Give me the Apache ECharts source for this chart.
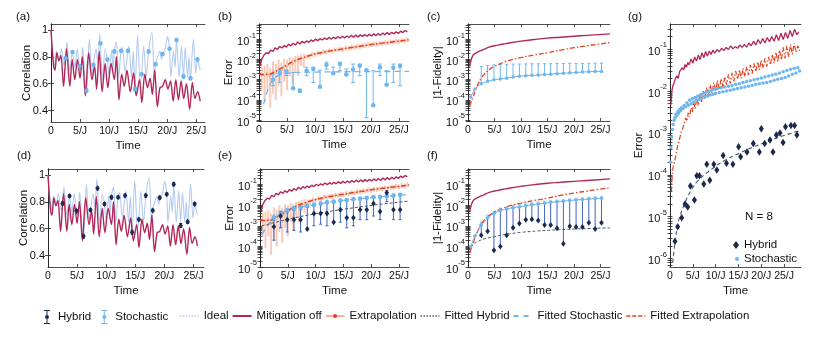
<!DOCTYPE html>
<html lang="en">
  <head>
    <meta charset="UTF-8" />
    <title>Error mitigation panels</title>
    <style>
      html, body { margin: 0; padding: 0; background: #fff; }
      #chart { width: 830px; height: 339px; }
    </style>
    <script src="https://cdn.jsdelivr.net/npm/echarts@6.0.0/dist/echarts.min.js"></script>
  </head>
  <body>
    <div id="chart"></div>
    <script>
      // sample times of the stochastic / hybrid runs (units of 1/J)
      const T = [2.5, 3.7, 4.9, 6.1, 7.3, 8.5, 9.7, 10.9, 12.05, 13.25, 14.45, 15.6, 16.8, 18.0, 19.2, 20.4, 21.6, 22.8, 24.0, 25.2]
      const TC = [0.5, 1.3, 2.5, 3.7, 4.9, 6.1, 7.3, 8.5, 9.7, 10.9, 12.05, 13.25, 14.45, 15.6, 16.8, 18.0, 19.2, 20.4, 21.6, 22.8, 24.0, 25.2]

      // (a)/(d) correlation
      const idealCorr = [[0,1.0],[0.3,0.82],[0.6,0.73],[0.95,0.84],[1.35,0.77],[1.8,0.86],[2.2,0.74],[2.5,0.79],[2.75,0.91],[3.2,0.70],[3.7,0.835],[4.1,0.72],[4.5,0.86],[4.9,0.73],[5.1,0.70],[5.45,0.87],[5.85,0.60],[6.1,0.55],[6.6,0.93],[7.05,0.66],[7.3,0.74],[7.75,0.86],[8.05,0.76],[8.4,0.97],[8.5,0.90],[8.9,0.63],[9.3,0.86],[9.7,0.78],[9.95,0.67],[10.45,0.85],[10.65,0.70],[10.9,0.84],[11.25,0.91],[11.65,0.65],[12.05,0.845],[12.3,0.87],[12.75,0.69],[13.25,0.845],[13.4,0.88],[13.85,0.65],[14.15,0.84],[14.45,0.56],[14.9,0.96],[15.35,0.60],[15.6,0.67],[15.95,0.88],[16.4,0.65],[16.8,0.84],[17.35,0.98],[17.8,0.64],[18.0,0.745],[18.35,0.80],[18.75,0.84],[19.0,0.78],[19.2,0.82],[19.65,0.86],[20.05,0.95],[20.4,0.86],[20.6,0.65],[21.1,0.84],[21.35,0.72],[21.6,0.925],[22.05,0.65],[22.45,0.88],[22.8,0.655],[23.1,0.87],[23.5,0.65],[23.75,0.80],[24.0,0.64],[24.5,0.93],[24.9,0.68],[25.2,0.78],[25.45,0.74],[25.7,0.70]]
      const mitOffCorr = [[0,1.0],[0.45,0.73],[0.68,0.70],[1.02,0.83],[1.36,0.77],[1.7,0.81],[2.16,0.58],[2.67,0.86],[3.24,0.58],[3.64,0.78],[4.09,0.63],[4.55,0.78],[5.0,0.64],[5.4,0.80],[5.91,0.51],[6.48,0.83],[7.05,0.63],[7.5,0.73],[7.84,0.56],[8.3,0.84],[8.8,0.54],[9.32,0.75],[9.77,0.57],[10.34,0.75],[10.9,0.63],[11.25,0.80],[11.7,0.48],[12.16,0.67],[12.6,0.58],[13.07,0.70],[13.64,0.54],[14.2,0.68],[14.66,0.51],[15.23,0.63],[15.63,0.46],[16.14,0.67],[16.6,0.57],[17.05,0.64],[17.44,0.52],[17.84,0.70],[18.3,0.43],[18.75,0.57],[19.2,0.58],[19.66,0.63],[20.11,0.56],[20.57,0.62],[21.02,0.47],[21.48,0.63],[21.93,0.48],[22.39,0.62],[22.84,0.49],[23.3,0.60],[23.86,0.41],[24.32,0.61],[24.77,0.49],[25.23,0.54],[25.68,0.47]]
      const stoCorr = [0.79, 0.835, 0.73, 0.55, 0.74, 0.90, 0.78, 0.84, 0.845, 0.845, 0.56, 0.67, 0.84, 0.745, 0.82, 0.86, 0.925, 0.655, 0.64, 0.78]
      const hybCorr = [0.788, 0.843, 0.731, 0.544, 0.739, 0.90, 0.783, 0.833, 0.833, 0.846, 0.574, 0.669, 0.846, 0.736, 0.831, 0.856, 0.93, 0.624, 0.651, 0.783]
      const corrErr = [0.012, 0.01, 0.012, 0.015, 0.01, 0.012, 0.01, 0.012, 0.01, 0.012, 0.015, 0.01, 0.012, 0.01, 0.012, 0.01, 0.012, 0.015, 0.012, 0.012]

      // (b)/(e) error
      const mitOffErr = [[0.2,5e-3],[0.5,1.1e-2],[0.9,1.7e-2],[1.3,2.2e-2],[1.7,2.0e-2],[2.1,3.0e-2],[2.5,2.6e-2],[2.9,3.8e-2],[3.3,3.2e-2],[3.7,4.5e-2],[4.1,3.8e-2],[4.5,5.0e-2],[4.9,4.2e-2],[5.3,5.8e-2],[5.7,4.8e-2],[6.1,6.5e-2],[6.5,5.3e-2],[6.9,7.5e-2],[7.3,6.0e-2],[7.7,8.0e-2],[8.1,6.8e-2],[8.5,8.5e-2],[8.9,7.2e-2],[9.3,9.5e-2],[9.7,8.0e-2],[10.1,1.05e-1],[10.5,8.8e-2],[10.9,1.1e-1],[11.3,9.5e-2],[11.7,1.2e-1],[12.1,1.0e-1],[12.5,1.25e-1],[12.9,1.05e-1],[13.3,1.3e-1],[13.7,1.1e-1],[14.1,1.4e-1],[14.5,1.15e-1],[14.9,1.45e-1],[15.3,1.2e-1],[15.7,1.5e-1],[16.1,1.25e-1],[16.5,1.6e-1],[16.9,1.3e-1],[17.3,1.65e-1],[17.7,1.35e-1],[18.1,1.7e-1],[18.5,1.4e-1],[18.9,1.75e-1],[19.3,1.45e-1],[19.7,1.8e-1],[20.1,1.5e-1],[20.5,1.9e-1],[20.9,1.55e-1],[21.3,2.0e-1],[21.7,1.6e-1],[22.1,2.1e-1],[22.5,1.7e-1],[22.9,2.2e-1],[23.3,1.75e-1],[23.7,2.3e-1],[24.1,1.9e-1],[24.5,2.4e-1],[24.9,2.0e-1],[25.3,2.6e-1],[25.7,2.2e-1],[26.1,2.8e-1],[26.5,2.4e-1]]
      // [t, value, low, high]
      const extrapErr = [[0.5,2e-3,3e-4,4e-3],[1.0,1.5e-3,8e-5,5e-3],[1.5,2.5e-3,3e-4,6e-3],[2.0,1.2e-3,4e-5,4e-3],[2.5,3e-3,2e-4,8e-3],[3.0,2e-3,1e-4,6e-3],[3.5,4e-3,5e-4,1e-2],[4.0,2.5e-3,1.5e-4,7e-3],[4.5,5e-3,8e-4,1.1e-2],[5.0,4e-3,3e-4,1e-2],[5.5,7e-3,1.5e-3,1.3e-2],[6.0,5.5e-3,6e-4,1.2e-2],[6.5,9e-3,2.5e-3,1.5e-2],[7.0,8e-3,1.5e-3,1.6e-2],[7.5,1.2e-2,5e-3,1.8e-2],[8.0,1.1e-2,4e-3,2e-2],[8.5,1.5e-2,1.1e-2,1.9e-2],[9.0,1.5e-2,1.1e-2,2.0e-2],[9.5,1.9e-2,1.4e-2,2.4e-2],[10.0,1.8e-2,1.35e-2,2.3e-2],[10.5,2.2e-2,1.65e-2,2.8e-2],[11.0,2.1e-2,1.6e-2,2.7e-2],[11.5,2.5e-2,1.9e-2,3.2e-2],[12.0,2.4e-2,1.8e-2,3.1e-2],[12.5,2.8e-2,2.1e-2,3.6e-2],[13.0,2.7e-2,2.0e-2,3.5e-2],[13.5,3.1e-2,2.3e-2,4.0e-2],[14.0,3.0e-2,2.3e-2,3.9e-2],[14.5,3.4e-2,2.6e-2,4.4e-2],[15.0,3.2e-2,2.4e-2,4.2e-2],[15.5,3.8e-2,2.9e-2,4.9e-2],[16.0,3.6e-2,2.7e-2,4.7e-2],[16.5,4.2e-2,3.2e-2,5.4e-2],[17.0,4.0e-2,3.0e-2,5.2e-2],[17.5,4.6e-2,3.5e-2,6.0e-2],[18.0,4.4e-2,3.3e-2,5.7e-2],[18.5,5.0e-2,3.8e-2,6.5e-2],[19.0,4.9e-2,3.7e-2,6.4e-2],[19.5,5.6e-2,4.2e-2,7.3e-2],[20.0,5.4e-2,4.1e-2,7.0e-2],[20.5,6.1e-2,4.6e-2,7.9e-2],[21.0,5.9e-2,4.4e-2,7.7e-2],[21.5,6.6e-2,5.0e-2,8.6e-2],[22.0,6.3e-2,4.7e-2,8.2e-2],[22.5,7.1e-2,5.3e-2,9.2e-2],[23.0,6.8e-2,5.1e-2,8.8e-2],[23.5,7.6e-2,5.7e-2,9.9e-2],[24.0,7.3e-2,5.5e-2,9.5e-2],[24.5,8.2e-2,6.2e-2,1.07e-1],[25.0,7.9e-2,5.9e-2,1.03e-1],[25.5,9.0e-2,6.8e-2,1.17e-1],[26.0,8.6e-2,6.5e-2,1.12e-1],[26.5,1.0e-1,7.5e-2,1.3e-1]]
      const fitExtErr = [[0,1.8e-3],[1,1.8e-3],[2,1.9e-3],[3,2.6e-3],[4,3.8e-3],[5,5.5e-3],[6,7.8e-3],[7,1.05e-2],[8,1.3e-2],[10,1.9e-2],[12,2.5e-2],[15,3.4e-2],[18,4.6e-2],[20,5.6e-2],[22,6.6e-2],[25,8.3e-2],[26.8,9.6e-2]]
      const stoErrB = [1e-3, 2.1e-3, 2.6e-3, 3.8e-4, 2.8e-4, 2.8e-3, 3.4e-3, 4.5e-4, 5.4e-3, 2.1e-3, 6.0e-3, 1.8e-3, 3.2e-3, 5.0e-3, 3.0e-3, 5.4e-5, 4.2e-3, 5.6e-4, 4.0e-3, 4.8e-3]
      const stoErrBLo = [5e-4, 7.4e-4, 1.6e-3, 3.8e-4, 2.3e-4, 1.6e-3, 7.4e-4, 4.5e-4, 3.4e-3, 2.1e-3, 2.8e-3, 1.8e-3, 7.4e-4, 1.6e-3, 1.3e-5, 5.4e-5, 1.6e-3, 5.6e-4, 7.4e-4, 5.0e-4]
      const stoErrBHi = [1.9e-3, 2.8e-3, 3.0e-3, 2.3e-3, 3.4e-4, 4.2e-3, 4.2e-3, 3.0e-3, 7.4e-3, 4.2e-3, 7.4e-3, 3.4e-3, 6.0e-3, 6.0e-3, 3.0e-3, 2.8e-3, 6.0e-3, 2.8e-3, 6.0e-3, 6.0e-3]
      const fitStoB = [[0.8,6e-5],[1.2,1.5e-4],[1.6,3.5e-4],[2.0,6e-4],[2.5,1.0e-3],[3.0,1.4e-3],[4.0,1.9e-3],[5,2.1e-3],[7,2.3e-3],[10,2.4e-3],[15,2.5e-3],[20,2.55e-3],[26.8,2.6e-3]]
      const stoErrE = [2.5e-3, 4e-3, 5.5e-3, 7e-3, 8e-3, 9.5e-3, 1.05e-2, 1.2e-2, 1.4e-2, 1.5e-2, 1.7e-2, 1.8e-2, 2.0e-2, 2.1e-2, 2.3e-2, 2.5e-2, 2.6e-2, 2.8e-2, 3.0e-2, 3.2e-2]
      const stoErrELo = [1.8e-3, 3e-3, 4.3e-3, 5.6e-3, 6.5e-3, 7.8e-3, 8.7e-3, 1.0e-2, 1.2e-2, 1.3e-2, 1.45e-2, 1.55e-2, 1.7e-2, 1.8e-2, 2.0e-2, 2.15e-2, 2.2e-2, 2.4e-2, 2.6e-2, 2.75e-2]
      const stoErrEHi = [3.3e-3, 5.2e-3, 7e-3, 8.7e-3, 9.8e-3, 1.15e-2, 1.26e-2, 1.42e-2, 1.62e-2, 1.72e-2, 1.98e-2, 2.08e-2, 2.32e-2, 2.43e-2, 2.64e-2, 2.9e-2, 3.0e-2, 3.2e-2, 3.45e-2, 3.7e-2]
      const fitStoE = [[0.3,3.7e-4],[1,7.5e-4],[2,1.6e-3],[3,3e-3],[4,4.5e-3],[5,5.8e-3],[7,8e-3],[10,1.1e-2],[13,1.5e-2],[16,1.85e-2],[19,2.2e-2],[22,2.6e-2],[26.8,3.4e-2]]
      const hybErrE = [9e-4, 3e-3, 2e-3, 2e-3, 2e-3, 7e-4, 4e-3, 4e-3, 4e-3, 1.5e-3, 6e-3, 2.5e-3, 2.5e-3, 6e-3, 6e-3, 1.2e-2, 5e-3, 4e-2, 6e-3, 6e-3]
      const hybErrELo = [2e-4, 8e-4, 5e-4, 6e-4, 5e-4, 7e-4, 1e-3, 1.2e-3, 1e-3, 1.5e-3, 1.5e-3, 8e-4, 1e-3, 2e-3, 2e-3, 3e-3, 2e-3, 1.5e-2, 2e-3, 2e-3]
      const hybErrEHi = [2.5e-3, 5e-3, 5e-3, 6e-3, 7e-3, 8e-3, 1e-2, 1.1e-2, 1.2e-2, 1.3e-2, 1.5e-2, 1.6e-2, 1.8e-2, 2e-2, 2.2e-2, 2.5e-2, 2.6e-2, 5e-2, 2.8e-2, 3e-2]
      const fitHybE = [[0.3,1.0e-3],[2,1.3e-3],[4,1.8e-3],[6,2.4e-3],[8,3.1e-3],[10,3.9e-3],[13,5.3e-3],[16,7e-3],[19,9e-3],[22,1.15e-2],[26.8,1.6e-2]]

      // (c)/(f) |1-Fidelity|
      const mitOffFid = [[0.3,4.5e-3],[0.5,8e-3],[1,1.7e-2],[1.5,2.1e-2],[2,2.5e-2],[3,3.2e-2],[4,4.2e-2],[5,4.9e-2],[6.5,5.8e-2],[8,6.9e-2],[10,8.3e-2],[12.5,1.0e-1],[15,1.17e-1],[17.5,1.3e-1],[20,1.45e-1],[22.5,1.6e-1],[26.8,1.9e-1]]
      const fitExtFid = [[0.3,4.9e-5],[0.6,8e-5],[1,1.5e-4],[1.5,3.5e-4],[2,6.9e-4],[2.5,1.2e-3],[3,1.8e-3],[4,3.2e-3],[5,4.6e-3],[6.5,7e-3],[8,9.5e-3],[10,1.26e-2],[12.5,1.7e-2],[15,2.2e-2],[17.5,3e-2],[20,3.9e-2],[22.5,4.9e-2],[26.8,7.0e-2]]
      const stoFidC = [1.4e-4, 3.5e-4, 6.3e-4, 8.5e-4, 1.0e-3, 1.1e-3, 1.2e-3, 1.35e-3, 1.5e-3, 1.6e-3, 1.65e-3, 1.7e-3, 1.8e-3, 1.9e-3, 2.0e-3, 2.1e-3, 2.2e-3, 2.3e-3, 2.4e-3, 2.5e-3, 2.6e-3, 2.6e-3]
      const stoFidCHi = [4.5e-3, 5e-3, 5.5e-3, 5.7e-3, 5.8e-3, 6e-3, 6e-3, 6.1e-3, 6.2e-3, 6.2e-3, 6.3e-3, 6.3e-3, 6.4e-3, 6.4e-3, 6.5e-3, 6.5e-3, 6.5e-3, 6.6e-3, 6.6e-3, 6.7e-3]
      const stoFidF = [1e-4, 3.2e-4, 1.1e-3, 2.4e-3, 4.0e-3, 5.6e-3, 6.6e-3, 7.6e-3, 8.3e-3, 9.5e-3, 1.05e-2, 1.15e-2, 1.26e-2, 1.38e-2, 1.48e-2, 1.58e-2, 1.7e-2, 1.8e-2, 1.9e-2, 2.0e-2, 2.1e-2, 2.2e-2]
      const stoFidFHi = [1.5e-3, 3.2e-3, 5e-3, 7e-3, 8.2e-3, 9.4e-3, 1.02e-2, 1.16e-2, 1.27e-2, 1.38e-2, 1.5e-2, 1.62e-2, 1.75e-2, 1.86e-2, 1.98e-2, 2.1e-2, 2.22e-2, 2.34e-2, 2.45e-2, 2.56e-2]
      const hybFid = [3.5e-4, 5.4e-4, 6.5e-5, 9.8e-5, 3.5e-4, 8.1e-4, 1.3e-3, 2.0e-3, 2.1e-3, 1.8e-3, 1.1e-3, 1.1e-3, 7.6e-4, 1.35e-4, 9.5e-4, 8.7e-4, 8.7e-4, 1.4e-3, 7.1e-4, 1.4e-3]
      const fitHybF = [[0.4,1e-4],[1,1.3e-4],[2,1.8e-4],[3,2.3e-4],[5,3e-4],[7,3.8e-4],[10,4.8e-4],[13,5.6e-4],[16,6.2e-4],[20,7e-4],[26.8,8e-4]]

      // (g) N = 8
      const mitOffG = [[0.2,4.7e-3],[0.4,1.0e-2],[0.6,1.3e-2],[0.9,1.6e-2],[1.2,2.0e-2],[1.5,2.3e-2],[1.8,2.0e-2],[2.1,2.9e-2],[2.4,2.6e-2],[2.7,3.6e-2],[3.0,3.2e-2],[3.3,4.3e-2],[3.6,3.7e-2],[3.9,4.8e-2],[4.2,4.2e-2],[4.6,5.8e-2],[5.0,4.6e-2],[5.4,6.5e-2],[5.8,5.2e-2],[6.2,7.2e-2],[6.6,5.6e-2],[7.0,8.2e-2],[7.4,6.2e-2],[7.8,8.8e-2],[8.2,6.8e-2],[8.6,9.0e-2],[9.0,7.5e-2],[9.4,9.5e-2],[9.8,8.0e-2],[10.3,9.8e-2],[10.8,8.6e-2],[11.3,1.05e-1],[11.8,9.2e-2],[12.3,1.1e-1],[12.8,9.8e-2],[13.3,1.2e-1],[13.8,1.02e-1],[14.3,1.15e-1],[14.8,1.05e-1],[15.3,1.25e-1],[15.8,1.1e-1],[16.3,1.3e-1],[16.8,1.12e-1],[17.3,1.4e-1],[17.8,1.2e-1],[18.3,1.55e-1],[18.8,1.25e-1],[19.3,1.7e-1],[19.8,1.35e-1],[20.3,1.8e-1],[20.8,1.4e-1],[21.3,1.9e-1],[21.8,1.5e-1],[22.3,2.0e-1],[22.8,1.55e-1],[23.3,2.2e-1],[23.8,1.6e-1],[24.3,2.4e-1],[24.8,1.7e-1],[25.3,2.5e-1],[25.8,1.8e-1],[26.3,2.8e-1],[26.8,2.0e-1],[27.3,3.0e-1],[27.8,2.2e-1],[28.2,2.6e-1]]
      const extrapG = [[0.3,4e-5],[0.45,1.0e-4],[0.7,1.6e-4],[1.0,2.0e-4],[1.3,3.0e-4],[1.6,4.5e-4],[1.9,6e-4],[2.2,8e-4],[2.5,1.1e-3],[2.8,1.3e-3],[3.1,1.6e-3],[3.4,2.3e-3],[3.7,1.9e-3],[4.0,3.0e-3],[4.3,2.4e-3],[4.6,4.0e-3],[4.9,3.2e-3],[5.2,5.5e-3],[5.5,3.8e-3],[5.9,7.0e-3],[6.2,4.5e-3],[6.6,8.0e-3],[6.9,5.5e-3],[7.3,1.0e-2],[7.6,6.5e-3],[8.0,1.2e-2],[8.4,7.5e-3],[8.8,1.4e-2],[9.2,9e-3],[9.6,1.6e-2],[10.0,1.0e-2],[10.4,1.8e-2],[10.8,1.1e-2],[11.2,2.0e-2],[11.6,1.2e-2],[12.0,2.2e-2],[12.4,1.4e-2],[12.8,2.5e-2],[13.2,1.5e-2],[13.6,2.7e-2],[14.0,1.7e-2],[14.4,3.0e-2],[14.8,1.9e-2],[15.2,3.2e-2],[15.6,2.0e-2],[16.0,3.5e-2],[16.4,2.2e-2],[16.8,3.8e-2],[17.2,2.4e-2],[17.6,4.2e-2],[18.0,2.6e-2],[18.4,4.6e-2],[18.8,2.9e-2],[19.2,5.0e-2],[19.6,3.2e-2],[20.0,5.5e-2],[20.4,3.5e-2],[20.8,6.0e-2],[21.2,3.8e-2],[21.6,6.5e-2],[22.0,4.2e-2],[22.4,7.5e-2],[22.8,4.6e-2],[23.2,8.5e-2],[23.6,5.0e-2],[24.0,9.5e-2],[24.4,5.5e-2],[24.8,1.1e-1],[25.2,6.0e-2],[25.6,1.2e-1],[26.0,6.5e-2],[26.4,1.3e-1],[26.8,7.5e-2],[27.2,1.4e-1],[27.6,8.5e-2],[28.0,1.2e-1],[28.4,9.0e-2]]
      const stoG = [[0.1,2e-4],[0.2,4.5e-4],[0.35,8e-4],[0.5,1.2e-3],[0.7,1.6e-3],[0.9,2.0e-3],[1.1,2.3e-3],[1.3,2.8e-3],[1.5,2.6e-3],[1.7,3.2e-3],[1.9,3.0e-3],[2.1,3.6e-3],[2.3,3.4e-3],[2.5,4.0e-3],[2.8,3.8e-3],[3.1,4.5e-3],[3.4,4.2e-3],[3.7,5.2e-3],[4.0,4.6e-3],[4.3,6.0e-3],[4.6,5.0e-3],[4.9,6.6e-3],[5.2,5.5e-3],[5.5,7.0e-3],[5.8,6.0e-3],[6.1,7.6e-3],[6.4,6.4e-3],[6.7,8.2e-3],[7.0,6.8e-3],[7.3,8.8e-3],[7.6,7.2e-3],[7.9,9.4e-3],[8.2,7.6e-3],[8.5,1.0e-2],[8.8,8.0e-3],[9.1,1.05e-2],[9.4,8.4e-3],[9.7,1.1e-2],[10.0,8.8e-3],[10.4,1.15e-2],[10.8,9.2e-3],[11.2,1.2e-2],[11.6,9.6e-3],[12.0,1.25e-2],[12.4,1.0e-2],[12.8,1.3e-2],[13.2,1.05e-2],[13.6,1.35e-2],[14.0,1.1e-2],[14.4,1.45e-2],[14.8,1.15e-2],[15.2,1.5e-2],[15.6,1.2e-2],[16.0,1.6e-2],[16.4,1.25e-2],[16.8,1.7e-2],[17.2,1.3e-2],[17.6,1.75e-2],[18.0,1.35e-2],[18.4,1.85e-2],[18.8,1.45e-2],[19.2,1.95e-2],[19.6,1.5e-2],[20.0,2.05e-2],[20.4,1.55e-2],[20.8,2.15e-2],[21.2,1.6e-2],[21.6,2.3e-2],[22.0,1.7e-2],[22.4,2.4e-2],[22.8,1.8e-2],[23.2,2.5e-2],[23.6,1.9e-2],[24.0,2.7e-2],[24.4,2.0e-2],[24.8,2.9e-2],[25.2,2.1e-2],[25.6,3.1e-2],[26.0,2.3e-2],[26.4,3.3e-2],[26.8,2.5e-2],[27.2,3.5e-2],[27.6,2.7e-2],[28.0,3.6e-2],[28.4,3.0e-2]]
      const hybG = [[1.09,2.6e-6],[1.68,5.8e-6],[2.56,9.5e-6],[3.3,2.0e-5],[3.88,1.7e-5],[4.47,5.4e-5],[5.35,2.5e-5],[5.86,9.5e-5],[6.45,9.5e-5],[7.4,6.0e-5],[8.06,1.8e-4],[8.72,7.4e-5],[9.6,1.8e-4],[10.26,1.3e-4],[11.65,2.9e-4],[12.38,1.9e-4],[13.78,1.8e-4],[15.03,4.7e-4],[15.47,2.7e-4],[16.86,3.5e-4],[18.25,5.6e-4],[19.57,3.5e-4],[20.0,1.26e-3],[20.74,5.6e-4],[21.9,6.8e-4],[22.57,3.5e-4],[23.3,8.9e-4],[24.1,1.0e-3],[24.77,5.9e-4],[25.3,1.4e-3],[26.5,1.5e-3],[27.3,1.5e-3],[27.8,8.9e-4]]
      const fitHybG = [[0.6,8e-7],[1.0,2e-6],[1.5,5e-6],[2,9e-6],[3,1.8e-5],[4,3.2e-5],[5,5e-5],[6,7e-5],[8,1.1e-4],[10,1.6e-4],[12,2.2e-4],[15,3.2e-4],[18,4.5e-4],[21,6.0e-4],[24,8.0e-4],[28.7,1.15e-3]]

      const FONT = 'Liberation Sans, Arial, sans-serif'
      const C = {
        mit: '#b0285a', ideal: '#b4cbf1', sto: '#6fb6ee', hyb: '#1b2a4c', hybBar: '#4062c2',
        ext: '#f5b39c', extDot: '#e4421e', fitExt: '#e4421e', fitHyb: '#4b5566'
      }
      const lg = v => Math.log10(v)
      const logPairs = arr => arr.map(p => [p[0], lg(p[1])])
      const logPts = (ts, vs) => ts.map((t, i) => [t, lg(vs[i])])

      const grids = [
        { left: 51, top: 24, width: 154, height: 98 },
        { left: 259, top: 24, width: 150, height: 97 },
        { left: 468, top: 24, width: 142, height: 97 },
        { left: 48, top: 169, width: 156, height: 98 },
        { left: 260, top: 169, width: 149, height: 98 },
        { left: 468, top: 169, width: 142, height: 98 },
        { left: 670, top: 24, width: 131, height: 243 }
      ]
      const xMax = [26.5, 26.8, 26.8, 26.8, 26.8, 26.8, 28.7]
      const corrY = { min: 0.315, max: 1.044, ticks: [0.4, 0.6, 0.8, 1], name: 'Correlation', gap: 18, log: false }
      const yCfg = [
        corrY,
        { min: -5.05, max: -0.23, ticks: [-5, -4, -3, -2, -1], name: 'Error', gap: 24, log: true },
        { min: -5.05, max: -0.23, ticks: [-5, -4, -3, -2, -1], name: '|1-Fidelity|', gap: 24, log: true },
        corrY,
        { min: -5.0, max: -0.24, ticks: [-5, -4, -3, -2, -1], name: 'Error', gap: 24, log: true },
        { min: -5.0, max: -0.24, ticks: [-5, -4, -3, -2, -1], name: '|1-Fidelity|', gap: 24, log: true },
        { min: -6.2, max: -0.4, ticks: [-6, -5, -4, -3, -2, -1], name: 'Error', gap: 25, log: true }
      ]
      // minor decade ticks (2..9 x 10^n) for the log panels
      const minorFactors = [2, 3, 4, 5, 6, 7, 8, 9]
      function tickValues(y) {
        if (!y.log) return y.ticks
        const out = y.ticks.slice()
        for (let e = Math.floor(y.min); e < Math.ceil(y.max); e++) {
          minorFactors.forEach(k => {
            const v = e + Math.log10(k)
            if (v > y.min && v < y.max) out.push(v)
          })
        }
        return out
      }

      const axisLine = { lineStyle: { color: '#222', width: 0.8 } }
      const tickStyle = { color: '#222', width: 0.8 }
      const nameStyle = { fontFamily: FONT, fontSize: 11.5, color: '#111' }
      const xTicks = [0, 5, 10, 15, 20, 25]

      const xAxis = []
      const yAxis = []
      grids.forEach((g, i) => {
        xAxis.push({
          gridIndex: i, type: 'value', min: 0, max: xMax[i],
          name: 'Time', nameLocation: 'middle', nameGap: 18, nameMoveOverlap: false, nameTextStyle: nameStyle,
          axisLine, splitLine: { show: false },
          axisTick: { inside: true, length: 3, lineStyle: tickStyle, customValues: xTicks },
          axisLabel: { margin: 4, fontFamily: FONT, fontSize: 10.5, color: '#111', customValues: xTicks,
            formatter: v => (v === 0 ? '0' : v + '/J') }
        })
        const y = yCfg[i]
        yAxis.push({
          gridIndex: i, type: 'value', min: y.min, max: y.max,
          name: y.name, nameLocation: 'middle', nameGap: y.gap, nameMoveOverlap: false, nameTextStyle: nameStyle,
          axisLine, splitLine: { show: false },
          axisTick: { inside: true, length: y.log ? 2.5 : 3, lineStyle: tickStyle, customValues: tickValues(y) },
          axisLabel: {
            margin: 3, fontFamily: FONT, fontSize: 11, color: '#111', customValues: y.ticks,
            formatter: y.log ? v => '{b|10}{s|' + Math.round(v) + '}' : v => String(+v.toFixed(1)),
            rich: {
              b: { fontFamily: FONT, fontSize: 11, color: '#111', lineHeight: 16, verticalAlign: 'bottom' },
              s: { fontFamily: FONT, fontSize: 7.5, color: '#111', lineHeight: 8, verticalAlign: 'top' }
            }
          }
        })
      })
      // mirrored frame with ticks on top and right
      grids.forEach((g, i) => {
        const y = yCfg[i]
        xAxis.push({
          gridIndex: i, type: 'value', position: 'top', min: 0, max: xMax[i], axisLine,
          splitLine: { show: false }, axisLabel: { show: false },
          axisTick: { inside: true, length: 3, lineStyle: tickStyle, customValues: xTicks }
        })
        yAxis.push({
          gridIndex: i, type: 'value', position: 'right', min: y.min, max: y.max, axisLine,
          splitLine: { show: false }, axisLabel: { show: false },
          axisTick: { inside: true, length: y.log ? 2.5 : 3, lineStyle: tickStyle, customValues: tickValues(y) }
        })
      })

      function line(name, gi, data, color, width, dash, extra) {
        return Object.assign({
          name, type: 'line', xAxisIndex: gi, yAxisIndex: gi, data, symbol: 'none',
          lineStyle: { color, width, type: dash || 'solid' }, itemStyle: { color },
          silent: true, animation: false
        }, extra || {})
      }
      function dots(name, gi, data, color, symbol, size, z) {
        return {
          name, type: 'scatter', xAxisIndex: gi, yAxisIndex: gi, data, symbol, symbolSize: size,
          itemStyle: { color, opacity: 1 }, silent: true, animation: false, z: z || 4
        }
      }
      function bars(gi, data, color, width, cap, opacity, z) {
        return {
          name: 'bars', type: 'custom', xAxisIndex: gi, yAxisIndex: gi, data, clip: true, silent: true,
          animation: false, z: z || 3, encode: { x: 0, y: [1, 2] },
          renderItem(params, api) {
            const hi = api.coord([api.value(0), api.value(2)])
            const lo = api.coord([api.value(0), api.value(1)])
            const style = { stroke: color, lineWidth: width, opacity: opacity || 1 }
            const children = [{ type: 'line', shape: { x1: lo[0], y1: lo[1], x2: hi[0], y2: hi[1] }, style }]
            if (cap) {
              children.push({ type: 'line', shape: { x1: hi[0] - cap, y1: hi[1], x2: hi[0] + cap, y2: hi[1] }, style })
              children.push({ type: 'line', shape: { x1: lo[0] - cap, y1: lo[1], x2: lo[0] + cap, y2: lo[1] }, style })
            }
            return { type: 'group', children }
          }
        }
      }

      const corrBars = vals => T.map((t, i) => [t, vals[i] - corrErr[i], vals[i] + corrErr[i]])
      const logBars = (ts, lo, hi) => ts.map((t, i) => [t, lg(lo[i]), lg(hi[i])])
      const extrapLine = extrapErr.map(p => [p[0], lg(p[1])])
      const extrapBars = extrapErr.map(p => [p[0], lg(p[2]), lg(p[3])])

      const series = [
        // (a)
        line('Ideal', 0, idealCorr, C.ideal, 1.1, 'solid', { smooth: 0.3 }),
        line('Mitigation off', 0, mitOffCorr, C.mit, 1.4, 'solid', { smooth: 0.3 }),
        bars(0, corrBars(stoCorr), C.sto, 1, 1.5),
        dots('Stochastic', 0, T.map((t, i) => [t, stoCorr[i]]), C.sto, 'circle', 4.5),
        // (b)
        bars(1, extrapBars, C.ext, 2, 0, 0.7, 1),
        line('Extrapolation', 1, extrapLine, C.ext, 1, 'solid', { symbol: 'circle', showSymbol: false, itemStyle: { color: C.extDot }, z: 2 }),
        line('Mitigation off', 1, logPairs(mitOffErr), C.mit, 1.4),
        line('Fitted Extrapolation', 1, logPairs(fitExtErr), C.fitExt, 1.5, [5, 2, 1.5, 2]),
        line('Fitted Stochastic', 1, logPairs(fitStoB), C.sto, 1.3, [6, 4]),
        bars(1, logBars(T, stoErrBLo, stoErrBHi), C.sto, 1, 2),
        dots('Stochastic', 1, logPts(T, stoErrB), C.sto, 'circle', 4.5),
        // (c)
        line('Mitigation off', 2, logPairs(mitOffFid), C.mit, 1.4, 'solid', { smooth: true }),
        line('Fitted Extrapolation', 2, logPairs(fitExtFid), C.fitExt, 1.3, [5, 2, 1.5, 2], { smooth: true }),
        bars(2, logBars(T, stoFidC.slice(2), stoFidCHi), C.sto, 1, 1.5),
        line('Stochastic', 2, logPts(TC, stoFidC), C.sto, 1, 'solid', { symbol: 'circle', symbolSize: 3.5, showSymbol: true }),
        // (d)
        line('Ideal', 3, idealCorr, C.ideal, 1.1, 'solid', { smooth: 0.3 }),
        line('Mitigation off', 3, mitOffCorr, C.mit, 1.4, 'solid', { smooth: 0.3 }),
        bars(3, corrBars(hybCorr), C.hyb, 1, 1.5),
        dots('Hybrid', 3, T.map((t, i) => [t, hybCorr[i]]), C.hyb, 'diamond', [4.5, 6]),
        // (e)
        bars(4, extrapBars, C.ext, 2, 0, 0.7, 1),
        line('Extrapolation', 4, extrapLine, C.ext, 1, 'solid', { z: 2 }),
        line('Mitigation off', 4, logPairs(mitOffErr), C.mit, 1.4),
        line('Fitted Extrapolation', 4, logPairs(fitExtErr), C.fitExt, 1.5, [5, 2, 1.5, 2]),
        line('Fitted Stochastic', 4, logPairs(fitStoE), C.sto, 1.3, [6, 4]),
        line('Fitted Hybrid', 4, logPairs(fitHybE), C.fitHyb, 1, [3, 2]),
        bars(4, logBars(T, stoErrELo, stoErrEHi), C.sto, 1, 1.5),
        dots('Stochastic', 4, logPts(T, stoErrE), C.sto, 'circle', 4.5),
        bars(4, logBars(T, hybErrELo, hybErrEHi), C.hybBar, 1, 1.5),
        dots('Hybrid', 4, logPts(T, hybErrE), C.hyb, 'diamond', [4.5, 6], 5),
        // (f)
        line('Mitigation off', 5, logPairs(mitOffFid), C.mit, 1.4, 'solid', { smooth: true }),
        line('Fitted Extrapolation', 5, logPairs(fitExtFid), C.fitExt, 1.3, [5, 2, 1.5, 2], { smooth: true }),
        line('Fitted Hybrid', 5, logPairs(fitHybF), C.fitHyb, 1, [3, 2], { smooth: true }),
        bars(5, logBars(T, stoFidF.slice(2), stoFidFHi), C.sto, 2, 1.5, 0.5),
        line('Stochastic', 5, logPts(TC, stoFidF), C.sto, 1, 'solid', { symbol: 'circle', symbolSize: 3.5, showSymbol: true }),
        bars(5, logBars(T, hybFid, stoFidF.slice(2)), C.hybBar, 1, 1.5),
        dots('Hybrid', 5, logPts(T, hybFid), C.hyb, 'diamond', [4.5, 6], 5),
        // (g)
        line('Mitigation off', 6, logPairs(mitOffG), C.mit, 1.3),
        line('extrapG', 6, logPairs(extrapG), C.fitExt, 1.2, [5, 2, 1.5, 2]),
        dots('Stochastic', 6, logPairs(stoG), C.sto, 'circle', 3.5),
        line('Fitted Hybrid', 6, logPairs(fitHybG), C.fitHyb, 1.1, [4, 3], { smooth: true }),
        dots('Hybrid', 6, logPairs(hybG), C.hyb, 'diamond', [5, 7.5], 5)
      ]

      const errIcon = 'path://M0 0H6V1H0Z M2.5 0H3.5V14H2.5Z M0 13H6V14H0Z M1 7A2 2 0 1 1 5 7A2 2 0 1 1 1 7Z'
      const legendText = { fontFamily: FONT, fontSize: 11.5, color: '#111' }
      const noDot = { opacity: 0 }

      const labels = [['(a)', 16, 11], ['(b)', 218, 11], ['(c)', 427, 11], ['(g)', 628, 11],
        ['(d)', 17, 150], ['(e)', 218, 150], ['(f)', 427, 150], ['N = 8', 745, 211]]

      const chart = echarts.init(document.getElementById('chart'))
      chart.setOption({
        animation: false,
        textStyle: { fontFamily: FONT },
        grid: grids.map(g => Object.assign({ containLabel: false }, g)),
        xAxis,
        yAxis,
        legend: [
          { left: 39, top: 305, itemWidth: 12, itemHeight: 14, itemGap: 10, selectedMode: false, textStyle: legendText,
            data: [{ name: 'Hybrid', icon: errIcon }, { name: 'Stochastic', icon: errIcon }] },
          { left: 174, top: 305, itemWidth: 19, itemHeight: 5, itemGap: 3, selectedMode: false, textStyle: legendText,
            data: [
              { name: 'Ideal', itemStyle: noDot, lineStyle: { type: [1.5, 1.5], width: 1.3 } },
              { name: 'Mitigation off', itemStyle: noDot },
              { name: 'Extrapolation' },
              { name: 'Fitted Hybrid', itemStyle: noDot, lineStyle: { type: [1.5, 1.5], width: 1.5 } },
              { name: 'Fitted Stochastic', itemStyle: noDot, lineStyle: { type: [5, 5], width: 1.8 } },
              { name: 'Fitted Extrapolation', itemStyle: noDot, lineStyle: { type: [4, 2], width: 1.5 } }
            ] },
          { left: 728, top: 234, itemWidth: 6, itemHeight: 8, selectedMode: false, textStyle: legendText,
            data: [{ name: 'Hybrid', icon: 'diamond' }] },
          { left: 730, top: 248, itemWidth: 4, itemHeight: 4, selectedMode: false, textStyle: legendText,
            data: [{ name: 'Stochastic', icon: 'circle' }] }
        ],
        graphic: labels.map(l => ({
          type: 'text', left: l[1], top: l[2], silent: true,
          style: { text: l[0], font: '11.5px ' + FONT, fill: '#111' }
        })),
        series
      })
    </script>
  </body>
</html>
